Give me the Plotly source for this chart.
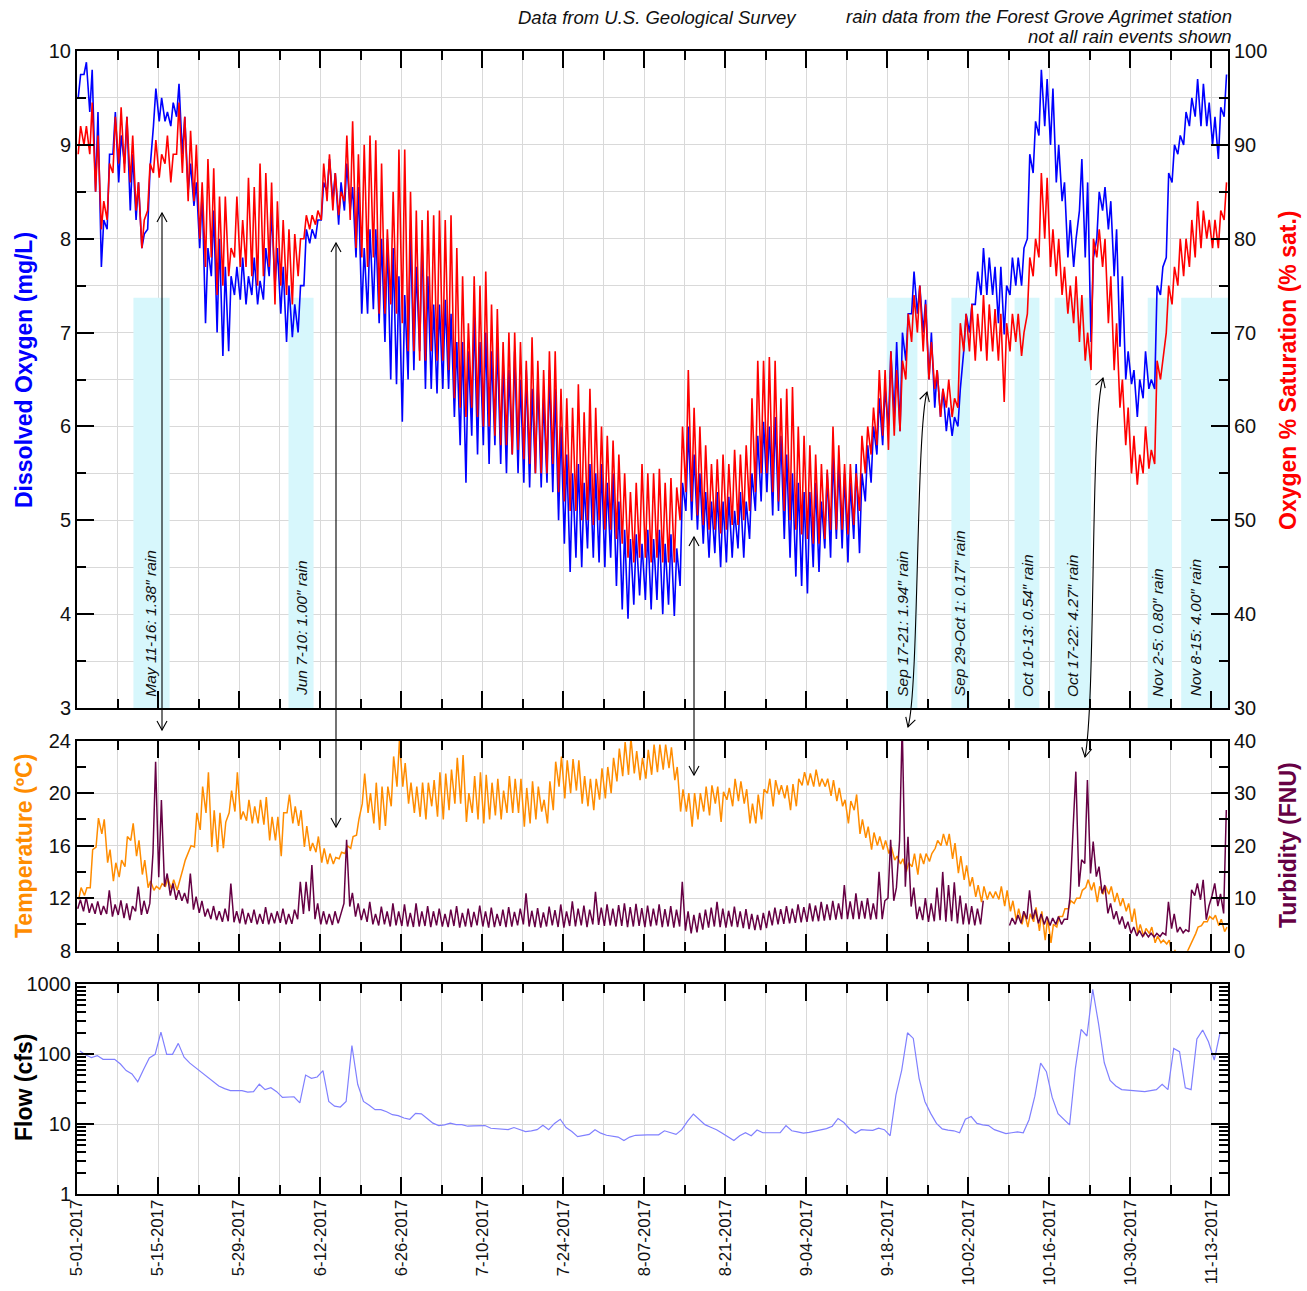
import datetime as dt
import plotly.graph_objects as go

# ---------------- data ----------------
START = dt.datetime(2017, 5, 1)
X_END = dt.datetime(2017, 11, 15, 21)

# daily max / min of dissolved oxygen (mg/L), May 1 .. Nov 15
DO_MAX = [
    9.75, 9.88, 9.8, 9.35, 8.2, 8.9, 9.35, 9.1, 9.3, 8.9,
    8.6, 8.05, 8.75, 9.6, 9.5, 9.35, 9.45, 9.65, 9.3, 8.8,
    8.6, 8.5, 7.9, 8.3, 8.0, 7.7, 7.6, 7.7, 7.8, 7.6,
    7.8, 7.55, 7.9, 8.3, 7.9, 7.7, 7.5, 7.3, 7.5, 8.1,
    8.1, 8.2, 8.6, 8.85, 8.7, 8.6, 8.8, 8.55, 8.55, 7.9,
    8.1, 8.1, 8.0, 8.0, 7.9, 7.6, 7.4, 8.1, 7.7, 8.0,
    7.6, 7.3, 7.3, 7.35, 7.2, 6.9, 6.9, 6.8, 7.2, 6.9,
    7.0, 6.8, 6.9, 6.7, 6.6, 6.8, 6.5, 6.6, 6.4, 6.5,
    6.3, 6.6, 6.4, 6.0, 5.7, 5.5, 5.6, 5.4, 5.6, 5.5,
    5.6, 5.4, 5.5, 5.2, 4.9, 4.8, 4.85, 4.75, 4.9, 4.8,
    4.9, 4.75, 4.85, 4.7, 5.4, 6.0, 5.7, 5.5, 5.3, 5.2,
    5.3, 5.2, 5.25, 5.1, 5.3, 5.2, 5.5, 5.9, 6.05, 6.0,
    6.1, 5.9, 5.7, 5.5, 5.4, 5.3, 5.3, 5.4, 5.2, 5.5,
    5.7, 5.6, 5.5, 5.4, 5.6, 5.5, 5.8, 6.0, 6.3, 6.4,
    6.8, 6.9, 7.0, 7.2, 7.65, 7.5, 7.35, 7.0, 6.6, 6.4,
    6.2, 6.1, 6.4, 7.2, 7.3, 7.65, 7.9, 7.8, 7.7, 7.7,
    7.5, 7.8, 7.8, 7.9, 8.9, 9.25, 9.8, 9.7, 9.6, 9.0,
    8.6, 8.2, 8.0, 8.85, 8.6, 7.8, 8.5, 8.55, 8.4, 8.1,
    7.6, 6.8, 6.6, 6.5, 6.8, 6.5, 7.5, 7.7, 8.7, 9.0,
    9.1, 9.35, 9.5, 9.7, 9.65, 9.45, 9.3, 9.4, 9.75,
]
DO_MIN = [
    9.5, 9.75, 9.35, 8.5, 7.7, 8.1, 8.9, 8.6, 8.8, 8.3,
    8.2, 7.9, 8.1, 9.2, 9.25, 9.25, 9.2, 9.3, 8.9, 8.5,
    8.35, 7.9, 7.1, 7.6, 7.0, 6.75, 6.8, 7.4, 7.35, 7.3,
    7.4, 7.3, 7.35, 7.6, 7.5, 7.2, 6.9, 6.95, 7.0, 7.5,
    7.95, 8.0, 8.2, 8.5, 8.4, 8.15, 8.3, 8.3, 7.8, 7.2,
    7.2, 7.25, 7.1, 6.9, 6.5, 6.45, 6.05, 6.5, 6.6, 6.8,
    6.4, 6.4, 6.35, 6.4, 6.4, 6.1, 5.8, 5.4, 5.9, 5.7,
    5.8, 5.6, 5.8, 5.6, 5.5, 5.7, 5.5, 5.4, 5.35, 5.5,
    5.35, 5.4, 5.3, 5.0, 4.75, 4.45, 4.6, 4.5, 4.7, 4.6,
    4.55, 4.5, 4.6, 4.3, 4.05, 3.95, 4.1, 4.2, 4.15, 4.05,
    4.15, 4.0, 4.1, 3.98, 4.3, 5.1, 5.0, 4.9, 4.75, 4.6,
    4.65, 4.5, 4.55, 4.6, 4.7, 4.6, 4.8, 5.1, 5.2, 5.3,
    5.05, 5.1, 4.8, 4.6, 4.4, 4.3, 4.22, 4.5, 4.45, 4.7,
    4.6, 4.8, 4.7, 4.55, 4.8, 4.65, 5.2, 5.4, 5.7, 5.8,
    6.0, 6.1, 5.95, 6.7, 7.2, 7.2, 7.0, 6.5, 6.2, 6.1,
    5.95, 5.9, 6.0, 6.8, 7.0, 7.3, 7.4, 7.4, 7.4, 7.1,
    6.98, 7.4, 7.5, 7.5, 8.0, 8.7, 9.1, 9.2, 9.0, 8.6,
    8.4, 7.8, 7.7, 8.3, 7.8, 6.9, 8.0, 8.3, 8.1, 7.6,
    6.85, 6.5, 6.45, 6.1, 6.3, 6.4, 6.4, 7.4, 7.8, 8.6,
    8.9, 9.0, 9.2, 9.3, 9.2, 9.2, 9.0, 8.85, 9.3,
]
# daily max / min of oxygen saturation (%)
SAT_MAX = [
    92, 92, 94.5, 91, 84, 88, 93, 94, 93, 91,
    86, 82, 88, 90.5, 89, 91, 89, 94.5, 93, 91.5,
    90, 86, 88.5, 87.5, 84.5, 84.5, 79, 84.5, 82, 86.5,
    85.5, 88, 87, 86, 84, 82, 81, 80.5, 80, 82.5,
    82.5, 83, 88, 89, 87, 85, 91, 92.5, 89, 90,
    91, 90.5, 88, 81, 85, 89.5, 89.5, 85, 83, 82,
    83, 82.5, 83, 82, 82.5, 79, 76, 71, 76, 75,
    76.5, 73, 72.5, 69, 70, 70, 69, 67, 69.5, 67,
    66, 68, 68, 64, 63, 62, 64.5, 61.5, 64, 62,
    60, 59, 58.5, 57, 55, 53, 54, 56, 55, 55,
    55.5, 54, 54.5, 53.5, 60, 66, 62, 60, 58, 56,
    56.5, 57, 56, 57.5, 57, 58, 63, 67, 67, 67.4,
    67, 63, 64, 64.2, 60, 59, 58, 57, 56, 55.4,
    60, 58, 56, 56, 55, 59, 60, 62, 66, 66,
    68, 66, 67, 72, 74, 75, 73, 69, 66, 64,
    65, 63, 71, 72, 73, 72, 74, 73, 72.5, 72,
    71, 72, 72, 70, 78, 80, 87, 86.5, 81, 80,
    77, 75, 76, 74, 70, 80, 81, 80, 76, 71,
    65, 62, 59, 57, 60, 57.5, 67, 67, 75, 77,
    80, 80, 82, 84, 83, 82, 82, 83, 86,
]
SAT_MIN = [
    89, 90, 89, 85, 81, 82, 87, 88, 87, 86,
    83, 79, 83, 87, 86.5, 88, 86, 89, 87, 84,
    84, 80, 77, 78, 74, 75, 76, 78, 77, 77,
    76, 75, 76, 77, 73, 75, 74, 73, 76, 80,
    81, 81.5, 82, 84, 83, 82.5, 84, 82, 79, 78,
    77, 78, 72, 72, 73, 72, 71, 68, 68, 67,
    67, 68, 67, 67, 66, 63, 62, 61, 62, 61,
    60, 60, 59, 58, 58, 57, 57.5, 56.5, 56, 55,
    55, 55, 56, 53, 52, 51, 51, 50, 50, 49.5,
    50, 49, 49, 48, 47.5, 46, 45.5, 46, 46, 45.5,
    46, 45.5, 45.5, 45.5, 50, 53, 52, 50.5, 49.5, 49,
    49, 48.6, 49, 49.5, 49.5, 50, 51, 53, 55, 55,
    53, 52, 51, 50, 49, 48.5, 48, 47.5, 47.5, 48,
    49, 49, 49, 48.5, 49.5, 51, 55, 57, 58, 59,
    57.5, 59, 59.5, 65, 69, 70, 68, 65, 64, 61,
    62, 61, 62, 68, 68, 67, 68, 67, 68, 67,
    62.6, 68, 69, 67.5, 72, 76, 78, 80, 77, 76,
    74, 72, 71, 69, 67, 66, 78, 77, 71, 66,
    62, 58, 55, 53.8, 55, 55.5, 56, 65, 70, 73,
    75, 76, 77, 78, 79, 80, 79, 79, 82,
]
# daily max / min water temperature (deg C)
TEMP_MAX = [
    12.8, 12.8, 15.7, 18.1, 18.0, 15.7, 14.7, 14.9, 16.7, 17.7,
    16.4, 14.9, 13.3, 12.9, 13.1, 13.5, 13.4, 13.2, 14.9, 16.0,
    18.5, 20.5, 21.6, 18.7, 18.5, 17.8, 20.2, 21.6, 18.6, 19.5,
    19.0, 19.5, 19.7, 18.2, 18.2, 18.5, 19.9, 19.0, 18.7, 17.5,
    16.2, 16.7, 15.8, 15.4, 15.1, 15.5, 16.0, 16.7, 18.0, 21.5,
    20.0, 20.8, 20.5, 20.5, 22.8, 24.0, 22.3, 20.8, 20.5, 20.8,
    20.8, 21.0, 21.6, 21.5, 21.8, 22.7, 22.9, 20.0, 21.3, 21.6,
    21.4, 20.8, 21.1, 20.2, 21.3, 21.1, 21.1, 20.4, 20.9, 20.5,
    19.5, 20.9, 22.4, 22.8, 22.5, 22.6, 22.5, 21.3, 21.1, 21.1,
    21.9, 22.0, 22.7, 23.4, 23.9, 24.2, 23.2, 22.7, 23.3, 23.7,
    23.7, 23.7, 23.5, 22.0, 20.3, 20.0, 20.0, 20.0, 20.5, 20.6,
    20.5, 20.1, 20.4, 21.1, 20.9, 20.3, 19.2, 19.9, 20.3, 21.1,
    21.0, 20.6, 20.6, 20.7, 21.1, 21.6, 21.5, 21.8, 21.1, 21.1,
    21.0, 20.4, 19.5, 19.4, 19.9, 18.0, 17.45, 17.0, 16.7, 16.4,
    15.9, 15.2, 15.0, 14.7, 15.4, 15.4, 15.4, 15.4, 16.4, 16.9,
    16.9, 16.2, 15.2, 14.5, 13.6, 13.0, 12.9, 12.5, 12.5, 12.9,
    12.6, 11.8, 11.2, 10.9, 10.8, 11.3, 11.0, 10.5, 10.0, 10.6,
    11.2, 11.8, 12.0, 12.6, 13.4, 13.2, 12.9, 12.9, 12.9, 12.4,
    12.0, 11.6, 11.2, 10.0, 9.7, 9.8, 9.1, 8.8, 8.8, 8.05,
    7.8, 7.8, 8.8, 9.8, 10.2, 10.6, 10.7, 10.4, 9.8,
]
TEMP_MIN = [
    11.9, 12.2, 12.8, 15.9, 16.9, 14.7, 13.3, 13.6, 14.4, 16.4,
    15.2, 13.8, 12.8, 12.6, 12.7, 12.9, 12.7, 12.6, 14.2, 15.6,
    15.9, 17.2, 18.5, 15.9, 15.5, 15.8, 18.5, 18.6, 18.0, 17.9,
    17.7, 17.7, 17.6, 16.4, 16.4, 15.2, 18.5, 17.7, 17.5, 15.9,
    15.6, 15.5, 14.7, 14.6, 14.6, 15.0, 15.4, 15.8, 16.8, 19.2,
    18.5, 17.7, 17.2, 17.5, 19.0, 20.5, 20.5, 19.2, 18.5, 18.2,
    18.0, 19.0, 18.2, 18.0, 18.7, 19.2, 19.2, 17.8, 18.5, 18.0,
    17.7, 18.0, 18.3, 18.0, 18.5, 18.5, 18.5, 17.45, 17.7, 18.0,
    18.6, 17.7, 18.7, 20.5, 19.6, 20.0, 20.2, 19.2, 19.0, 18.7,
    19.5, 19.6, 20.0, 20.9, 21.3, 21.4, 21.5, 21.0, 21.1, 21.4,
    21.6, 21.8, 21.9, 21.0, 18.6, 18.6, 17.45, 18.0, 18.6, 18.3,
    19.2, 17.8, 19.5, 19.0, 19.4, 19.2, 17.7, 17.7, 18.0, 20.0,
    19.0, 19.9, 19.6, 18.7, 19.0, 20.6, 20.6, 20.5, 20.5, 20.5,
    19.8, 19.4, 19.0, 17.7, 18.7, 16.9, 16.6, 15.7, 16.0, 15.7,
    15.4, 14.9, 14.6, 14.0, 14.4, 13.8, 14.6, 14.8, 15.8, 16.0,
    16.0, 15.0, 13.9, 13.4, 12.9, 12.1, 11.7, 11.9, 12.0, 11.9,
    11.4, 11.0, 10.3, 10.0, 9.8, 10.2, 9.5, 8.8, 8.6, 9.8,
    10.6, 11.2, 11.6, 12.0, 12.8, 12.6, 11.7, 12.3, 12.3, 11.7,
    11.4, 11.0, 10.2, 9.3, 9.1, 9.3, 8.6, 8.6, 8.5, 7.55,
    7.4, 7.4, 8.3, 9.3, 9.9, 10.2, 10.4, 9.9, 9.45,
]
# daily high / low turbidity (FNU); None = no data
TURB_HI = [
    9.7, 10.2, 9.0, 9.4, 8.5, 11.5, 8.8, 9.6, 9.0, 8.5,
    12.2, 9.5, 9.0, 36.0, 28.7, 14.7, 12.8, 11.5, 11.0, 14.7,
    10.3, 9.5, 8.0, 8.5, 7.5, 8.0, 12.8, 7.5, 8.0, 7.2,
    7.8, 7.0, 8.3, 7.2, 7.5, 8.0, 7.0, 7.8, 13.1, 13.1,
    16.3, 9.0, 7.5, 7.0, 7.5, 7.2, 21.1, 11.0, 9.0, 8.0,
    9.3, 7.0, 8.4, 7.5, 9.0, 7.5, 8.8, 7.2, 9.0, 7.5,
    8.5, 7.5, 8.0, 7.0, 7.8, 8.5, 7.2, 8.0, 7.4, 8.6,
    7.5, 8.2, 7.0, 7.8, 8.3, 7.4, 8.0, 10.9, 7.6, 8.1,
    7.3, 8.4, 7.7, 8.8, 7.5, 9.4, 8.0, 8.6, 7.8, 11.2,
    8.2, 8.8, 8.0, 8.7, 9.0, 8.3, 8.9, 8.1, 8.6, 8.0,
    8.8, 7.9, 8.5, 7.8, 13.1, 7.5, 6.8, 7.2, 7.8, 8.2,
    9.3, 8.0, 7.6, 8.4, 7.5, 7.9, 7.0, 6.8, 7.2, 7.6,
    8.2, 7.9, 8.5, 8.0, 8.8, 8.3, 9.0, 8.6, 9.3, 8.8,
    9.5, 9.0, 12.5, 9.4, 10.9, 9.5, 10.0, 9.0, 15.0, 9.5,
    21.1, 12.0, 43.0, 21.7, 12.0, 8.4, 10.0, 9.0, 12.0, 15.0,
    12.5, 13.0, 10.5, 9.0, 8.5, 8.0, 9.5, None, None, None,
    None, 6.2, 6.8, 7.5, 11.5, 7.8, 7.0, 6.5, 6.2, 6.5,
    6.0, 10.3, 34.1, 17.3, 32.5, 20.8, 16.0, 12.5, 9.0, 7.5,
    6.5, 5.5, 4.5, 3.8, 3.5, 3.3, 3.3, 3.4, 9.3, 7.0,
    4.5, 4.0, 11.6, 12.8, 13.5, 8.5, 12.8, 10.8, 26.8,
]
TURB_LO = [
    8.0, 7.5, 7.2, 7.0, 6.8, 7.0, 6.5, 6.8, 6.2, 5.8,
    7.5, 6.8, 7.0, 18.5, 14.0, 12.2, 10.5, 9.7, 9.5, 9.0,
    7.8, 7.2, 6.5, 6.0, 5.8, 5.5, 5.6, 5.4, 5.2, 5.0,
    5.3, 5.0, 5.1, 5.0, 5.2, 5.3, 5.0, 5.1, 6.0, 7.0,
    7.5, 6.0, 5.0, 5.0, 4.9, 5.2, 9.0, 8.4, 6.5, 5.8,
    5.5, 5.0, 4.8, 5.0, 4.6, 4.8, 4.7, 4.6, 4.5, 4.6,
    4.7, 4.5, 4.8, 4.6, 4.5, 4.7, 4.4, 4.6, 4.5, 4.8,
    4.6, 4.4, 4.5, 4.7, 4.5, 4.6, 4.8, 5.0, 4.6, 4.5,
    4.4, 4.6, 4.8, 4.5, 4.4, 4.7, 4.6, 4.8, 4.5, 5.0,
    4.9, 4.7, 4.8, 4.6, 4.7, 4.5, 4.6, 4.7, 4.5, 4.6,
    4.8, 4.5, 4.6, 4.4, 4.6, 3.8, 3.3, 3.5, 4.0, 4.4,
    4.6, 4.5, 4.4, 4.6, 4.5, 4.3, 4.1, 3.9, 3.9, 4.3,
    4.8, 5.0, 5.1, 5.2, 5.3, 5.4, 5.5, 5.6, 5.6, 5.7,
    5.8, 5.9, 6.0, 6.0, 6.0, 6.0, 6.1, 5.9, 6.0, 6.0,
    10.0, 9.5, 21.0, 12.2, 8.4, 6.0, 5.8, 5.5, 5.6, 5.8,
    5.5, 5.6, 5.2, 5.0, 5.0, 4.8, 5.0, None, None, None,
    None, 4.8, 5.0, 5.2, 6.0, 6.0, 5.2, 5.0, 4.8, 5.0,
    5.0, 6.0, 23.6, 12.2, 16.6, 14.7, 14.1, 10.9, 7.1, 6.0,
    5.0, 4.2, 3.3, 2.8, 2.7, 2.6, 2.6, 2.7, 3.0, 4.2,
    3.5, 3.4, 3.6, 10.5, 9.7, 5.9, 10.5, 8.5, 7.1,
]
# daily mean flow (cfs)
FLOW = [
    110, 97, 89, 95, 84, 84, 84, 72, 58, 52,
    40, 60, 88, 99, 205, 99, 99, 142, 90, 74,
    64, 55, 47, 41, 35, 32, 30, 30, 30, 28.5,
    29, 37, 31, 33, 29, 24, 24.5, 24.5, 20, 50,
    45, 47, 58, 21, 18, 17.5, 21, 132, 37, 21,
    18.5, 16, 16, 15, 13.6, 13.2, 12.2, 11.7, 14.2, 14,
    12, 10.3, 9.5, 9.7, 10.3, 9.8, 9.8, 9.3, 9.4, 9.5,
    9.5, 8.7, 8.5, 8.4, 8.3, 8.9, 8.3, 7.8, 8.0, 8.3,
    9.6, 8.3, 10.2, 11.7, 8.9, 7.8, 6.6, 6.9, 7.1, 8.3,
    7.4, 6.9, 6.7, 6.5, 5.8, 6.5, 6.9, 7.0, 7.0, 7.0,
    7.0, 8.0, 7.5, 7.1, 8.3, 11, 13.9, 11.5, 9.8, 9.0,
    8.3, 7.4, 6.6, 5.8, 6.8, 7.5, 6.8, 8.2, 7.5, 7.5,
    7.5, 7.5, 9.5, 8.0, 7.7, 7.4, 7.6, 7.9, 8.2, 8.6,
    9.3, 12, 10.5, 8.5, 7.4, 8.3, 8.2, 8.1, 8.7, 8.3,
    6.8, 26, 59, 201, 167, 45, 21, 14.2, 10.2, 8.5,
    8.2, 8.0, 7.5, 11.7, 12.8, 10.2, 9.7, 9.5, 8.3, 7.8,
    7.3, 7.5, 7.7, 7.5, 11.5, 25, 74, 56, 24, 14,
    11.5, 9.7, 62, 225, 181, 840, 274, 75, 42, 35,
    31, 30.5, 30, 29.5, 29, 30, 31, 37, 31, 120,
    108, 33, 31, 164, 220, 150, 82, 201, 195,
]

RAIN_LABELS = [
    "May 11-16: 1.38\u2033 rain", "Jun 7-10: 1.00\u2033 rain",
    "Sep 17-21: 1.94\u2033 rain", "Sep 29-Oct 1: 0.17\u2033 rain",
    "Oct 10-13: 0.54\u2033 rain", "Oct 17-22: 4.27\u2033 rain",
    "Nov 2-5: 0.80\u2033 rain", "Nov 8-15: 4.00\u2033 rain",
]
RAIN_START = ["2017-05-10 18:00", "2017-06-06 13:00", "2017-09-17 22:00", "2017-09-29 02:00",
              "2017-10-10 00:00", "2017-10-16 22:00", "2017-11-02 00:00", "2017-11-07 19:00"]
RAIN_END = ["2017-05-17 00:00", "2017-06-10 21:00", "2017-09-23 05:00", "2017-10-02 07:00",
            "2017-10-14 07:00", "2017-10-23 05:00", "2017-11-06 05:00", "2017-11-15 21:00"]
RAIN_LABEL_AT = ["2017-05-13 17:00", "2017-06-08 19:00", "2017-09-20 14:00", "2017-09-30 12:00",
                 "2017-10-12 05:00", "2017-10-20 00:00", "2017-11-03 14:00", "2017-11-10 05:00"]

for arr in (DO_MIN, SAT_MAX, SAT_MIN, TEMP_MAX, TEMP_MIN, TURB_HI, TURB_LO, FLOW):
    assert len(arr) == len(DO_MAX), len(arr)

# ---------------- helpers ----------------
def zigzag(lows, highs, h_low, h_high):
    xs, ys = [], []
    for d, (lo, hi) in enumerate(zip(lows, highs)):
        day = START + dt.timedelta(days=d)
        xs += [day + dt.timedelta(hours=h_low), day + dt.timedelta(hours=h_high)]
        ys += [lo, hi]
    return xs, ys

do_x, do_y = zigzag(DO_MIN, DO_MAX, 5, 15)
sat_x, sat_y = zigzag(SAT_MIN, SAT_MAX, 5, 15)
t_x, t_y = zigzag(TEMP_MIN, TEMP_MAX, 7, 17)
tb_x, tb_y = zigzag(TURB_LO, TURB_HI, 3, 14)
flow_x = [START + dt.timedelta(days=d, hours=12) for d in range(len(FLOW))]

BLUE, RED, ORANGE, PURPLE, FLOWC = "#0000ff", "#ff0000", "#ff8c00", "#660044", "#8080ff"
GRID = "#d9d9d9"
FONT = "Liberation Sans, Arial, sans-serif"
DAY_MS = 86400000

fig = go.Figure()
fig.add_trace(go.Scatter(x=do_x, y=do_y, mode="lines", line=dict(color=BLUE, width=1.6),
                         xaxis="x", yaxis="y"))
fig.add_trace(go.Scatter(x=sat_x, y=sat_y, mode="lines", line=dict(color=RED, width=1.6),
                         xaxis="x", yaxis="y2"))
fig.add_trace(go.Scatter(x=t_x, y=t_y, mode="lines", line=dict(color=ORANGE, width=1.5),
                         xaxis="x2", yaxis="y3"))
fig.add_trace(go.Scatter(x=tb_x, y=tb_y, mode="lines", line=dict(color=PURPLE, width=1.5),
                         xaxis="x2", yaxis="y4"))
fig.add_trace(go.Scatter(x=flow_x, y=FLOW, mode="lines", line=dict(color=FLOWC, width=1.2),
                         xaxis="x3", yaxis="y5"))

# ---------------- axes ----------------
def xaxis(anchor, labels):
    return dict(
        type="date", range=[START, X_END], anchor=anchor, domain=[0, 1], automargin=False,
        tick0=START, dtick=14 * DAY_MS, ticks="inside", ticklen=17, tickwidth=2,
        tickcolor="black", showline=True, linewidth=2, linecolor="black", mirror="ticks",
        showgrid=True, gridcolor=GRID, gridwidth=1.3, zeroline=False,
        minor=dict(tick0=START, dtick=7 * DAY_MS, ticks="inside", ticklen=9, tickwidth=2,
                   tickcolor="black", showgrid=True, gridcolor=GRID, gridwidth=1.3),
        showticklabels=labels, tickformat="%-m-%d-%Y", tickangle=-90,
        ticklabelstandoff=-3,
        tickfont=dict(family=FONT, size=16.8, color="#111"),
    )

def yaxis(domain, rng, dtick, mdtick, side="left", grid=True, mgrid=False, **kw):
    d = dict(domain=domain, range=rng, tick0=rng[0], dtick=dtick, side=side, automargin=False,
             ticks="inside", ticklen=17, tickwidth=2, tickcolor="black",
             showline=True, linewidth=2, linecolor="black", zeroline=False,
             showgrid=grid, gridcolor=GRID, gridwidth=1.3,
             minor=dict(tick0=rng[0], dtick=mdtick, ticks="inside", ticklen=9, tickwidth=2,
                        tickcolor="black", showgrid=mgrid, gridcolor=GRID, gridwidth=1.3),
             tickfont=dict(family=FONT, size=20, color="#111"))
    d.update(kw)
    return d

TOP = [0.4252, 1.0]
MID = [0.2129, 0.3966]
BOT = [0.0, 0.1837]

minor_flow = [m * 10 ** e for e in range(3) for m in range(2, 10)]

fig.update_layout(
    width=1307, height=1291,
    margin=dict(l=77, r=79, t=51, b=97, autoexpand=False),
    paper_bgcolor="white", plot_bgcolor="white", showlegend=False,
    xaxis=xaxis("y", False),
    xaxis2=xaxis("y3", False),
    xaxis3=xaxis("y5", True),
    yaxis=yaxis(TOP, [3, 10], 1, 0.5, grid=True, mgrid=True, anchor="x"),
    yaxis2=yaxis(TOP, [30, 100], 10, 5, side="right", grid=False, anchor="x", overlaying="y"),
    yaxis3=yaxis(MID, [8, 24], 4, 2, grid=True, anchor="x2"),
    yaxis4=yaxis(MID, [0, 40], 10, 5, side="right", grid=False, anchor="x2", overlaying="y3"),
    yaxis5=dict(domain=BOT, type="log", range=[0, 3], anchor="x3", automargin=False,
                tickvals=[1, 10, 100, 1000], ticktext=["1", "10", "100", "1000"],
                ticks="inside", ticklen=17, tickwidth=2, tickcolor="black",
                showline=True, linewidth=2, linecolor="black", mirror="ticks",
                showgrid=True, gridcolor=GRID, gridwidth=1.3, zeroline=False,
                minor=dict(tickvals=minor_flow, ticks="inside", ticklen=9, tickwidth=2,
                           tickcolor="black", showgrid=False),
                tickfont=dict(family=FONT, size=20, color="#111")),
)

# ---------------- rain bands & labels ----------------
shapes = []
annotations = []
for lab, s, e, at in zip(RAIN_LABELS, RAIN_START, RAIN_END, RAIN_LABEL_AT):
    shapes.append(dict(type="rect", xref="x", yref="y", x0=s, x1=e, y0=3, y1=7.37,
                       fillcolor="#d7f7fc", line=dict(width=0), layer="between"))
    annotations.append(dict(xref="x", yref="y", x=at, y=3.1, text="<i>" + lab + "</i>",
                            textangle=-90, showarrow=False, xanchor="center", yanchor="bottom",
                            font=dict(family=FONT, size=15.5, color="#111")))

# ---------------- arrows (decoration, in pixel space of the plot area) ----------------
PL, PR, PT, PB = 77, 1228, 51, 1194

def paper(p):
    return ((p[0] - PL) / (PR - PL), (PB - p[1]) / (PB - PT))

ARROWS = [
    [(162, 730), (162, 600), (162, 300), (162, 213)],
    [(336, 827), (336, 700), (336, 300), (336, 243)],
    [(694, 775), (694, 700), (694, 600), (694, 537)],
    [(908, 727), (919, 690), (916, 430), (927, 392)],
    [(1085, 757), (1096, 700), (1090, 420), (1103, 378)],
]

def head(tip, frm, L=9.0, W=5.0):
    ux, uy = tip[0] - frm[0], tip[1] - frm[1]
    n = (ux ** 2 + uy ** 2) ** 0.5
    ux, uy = ux / n, uy / n
    nx, ny = -uy, ux
    a1 = (tip[0] - L * ux + W * nx, tip[1] - L * uy + W * ny)
    a2 = (tip[0] - L * ux - W * nx, tip[1] - L * uy - W * ny)
    pts = [paper(a1), paper(tip), paper(a2)]
    return "M {:.5f},{:.5f} L {:.5f},{:.5f} L {:.5f},{:.5f}".format(*pts[0], *pts[1], *pts[2])

for p0, c1, c2, p3 in ARROWS:
    q = [paper(p) for p in (p0, c1, c2, p3)]
    path = "M {:.5f},{:.5f} C {:.5f},{:.5f} {:.5f},{:.5f} {:.5f},{:.5f}".format(
        *q[0], *q[1], *q[2], *q[3])
    for pth in (path, head(p3, c2), head(p0, c1)):
        shapes.append(dict(type="path", xref="paper", yref="paper", path=pth,
                           line=dict(color="black", width=1.1), layer="above"))

# ---------------- axis titles & notes ----------------
def vtitle(text, color, px, py):
    x, y = paper((px, py))
    return dict(xref="paper", yref="paper", x=x, y=y, text="<b>" + text + "</b>",
                textangle=-90, showarrow=False, xanchor="center", yanchor="middle",
                font=dict(family=FONT, size=23, color=color))

annotations += [
    vtitle("Dissolved Oxygen (mg/L)", BLUE, 24, 370),
    vtitle("Oxygen % Saturation (% sat.)", RED, 1288, 370),
    vtitle("Temperature (\u00baC)", ORANGE, 24, 846),
    vtitle("Turbidity (FNU)", PURPLE, 1288, 845),
    vtitle("Flow (cfs)", "black", 24, 1088),
]
nx, ny = paper((657, 18))
annotations.append(dict(xref="paper", yref="paper", x=nx, y=ny, showarrow=False,
                        text="<i>Data from U.S. Geological Survey</i>", xanchor="center",
                        yanchor="middle", font=dict(family=FONT, size=18.5, color="#111")))
nx, ny = paper((1234, 16))
annotations.append(dict(xref="paper", yref="paper", x=nx, y=ny, showarrow=False,
                        text="<i>rain data from the Forest Grove Agrimet station</i>",
                        xanchor="right", yanchor="middle",
                        font=dict(family=FONT, size=18.5, color="#111")))
nx, ny = paper((1234, 37))
annotations.append(dict(xref="paper", yref="paper", x=nx, y=ny, showarrow=False,
                        text="<i>not all rain events shown</i>", xanchor="right",
                        yanchor="middle", font=dict(family=FONT, size=18.5, color="#111")))

fig.update_layout(shapes=shapes, annotations=annotations)

fig.write_html("out.html", config={"displayModeBar": False},
               post_script="document.body.style.margin='0px';")
